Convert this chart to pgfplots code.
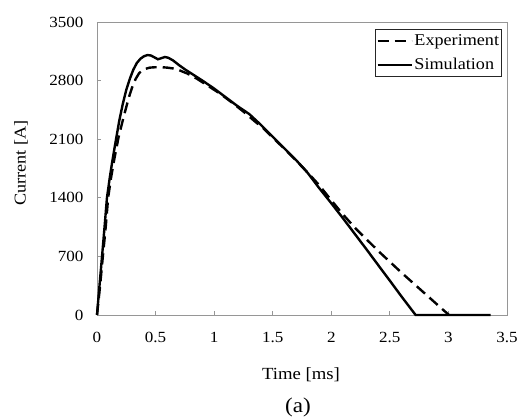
\documentclass[border=0pt]{standalone}
\usepackage{fontspec}
\setmainfont{Liberation Serif}[FakeStretch=1.1]
\usepackage{pgfplots}
\pgfplotsset{compat=1.18}
\definecolor{axgray}{RGB}{150,150,150}

\begin{document}
\begin{tikzpicture}[font=\fontsize{15.5bp}{18bp}\selectfont]
\useasboundingbox (-97bp,-104bp) rectangle (422bp,315bp);
\begin{axis}[
    at={(0,0)}, anchor=south west,
    scale only axis,
    width=410bp, height=293bp,
    xmin=0, xmax=3.5,
    ymin=0, ymax=3500,
    xtick={0,0.5,1,1.5,2,2.5,3,3.5},
    ytick={0,700,1400,2100,2800,3500},
    /pgf/number format/assume math mode=true,
    /pgf/number format/1000 sep={},
    ticklabel style={font=\fontsize{15.5bp}{18bp}\selectfont},
    axis line style={axgray, line width=0.8bp},
    tick style={axgray, line width=0.8bp},
    major tick length=4bp,
    tick align=inside,
    xtick pos=left, ytick pos=left,
    xticklabel style={yshift=-14bp},
    yticklabel style={xshift=-10bp},
    clip=false,
    legend style={at={(1,1)}, anchor=north east, xshift=-5bp, yshift=-7bp,
        draw=black!85, line width=0.8bp, inner xsep=1bp, inner ysep=4.5bp,
        row sep=9bp, nodes={inner xsep=1.5bp, inner ysep=1bp},
        font=\fontsize{16.5bp}{19bp}\selectfont},
    legend cell align=left,
    legend image code/.code={\draw[#1] (0bp,0bp) -- (34bp,0bp);},
]
% Experiment (dashed)
\addplot[black, line width=2.4bp, dash pattern=on 11bp off 6bp] coordinates {
    (0,0) (0.025,330) (0.05,700) (0.075,1060) (0.095,1400) (0.12,1640)
    (0.15,1880) (0.185,2130) (0.23,2380) (0.27,2590) (0.30,2720)
    (0.33,2820) (0.36,2890) (0.40,2935) (0.45,2955) (0.50,2960)
    (0.55,2960) (0.60,2955) (0.65,2945) (0.70,2925) (0.77,2885)
    (0.85,2825) (0.95,2735) (1.05,2645) (1.15,2540) (1.25,2430)
    (1.35,2310) (1.42,2230) (1.5,2120) (1.6,1985) (1.7,1845)
    (1.8,1700) (1.9,1545) (1.98,1405) (2.09,1217) (2.2,1045)
    (2.29,918) (2.42,740) (2.6,505) (2.8,255) (2.96,55) (3.005,0)
};
% Simulation (solid)
\addplot[black, line width=2.4bp] coordinates {
    (0,0) (0.02,330) (0.043,700) (0.065,1060) (0.085,1400) (0.11,1650)
    (0.13,1830) (0.16,2080) (0.19,2320) (0.22,2520) (0.25,2690)
    (0.28,2820) (0.31,2930) (0.34,3010) (0.37,3060) (0.40,3090)
    (0.43,3105) (0.46,3100) (0.49,3078) (0.52,3055) (0.55,3068)
    (0.58,3082) (0.61,3072) (0.65,3040) (0.70,2985) (0.75,2935)
    (0.80,2890) (0.9,2800) (1.0,2705) (1.1,2600) (1.2,2495)
    (1.3,2400) (1.4,2270) (1.5,2130) (1.6,1990) (1.7,1850)
    (1.8,1695) (1.9,1510) (2.0,1335) (2.1,1155) (2.2,970)
    (2.3,785) (2.4,597) (2.5,410) (2.6,220) (2.72,0) (3.36,0)
};
\legend{Experiment, Simulation}
\end{axis}
\node[rotate=90, font=\fontsize{16.5bp}{19bp}\selectfont] at (-76bp,152bp) {Current [A]};
\node[font=\fontsize{17bp}{20bp}\selectfont] at (204bp,-60bp) {Time [ms]};
\node[font=\fontsize{21bp}{24bp}\selectfont] at (201bp,-92bp) {(a)};
\end{tikzpicture}
\end{document}
